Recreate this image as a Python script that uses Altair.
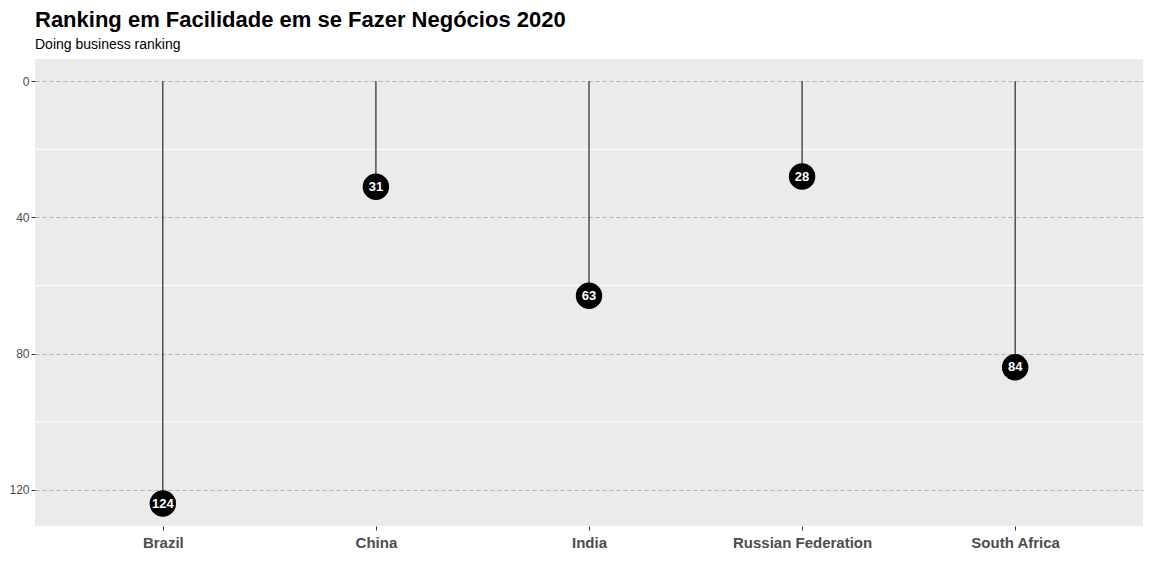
import altair as alt
import pandas as pd

countries = ["Brazil", "China", "India", "Russian Federation", "South Africa"]
ranks = [124, 31, 63, 28, 84]
minor_lines = [20, 60, 100]

df = pd.DataFrame({"country": countries, "rank": ranks, "zero": 0})
minor = pd.DataFrame({"v": minor_lines})

x = alt.X("country:N", scale=alt.Scale(type="point", padding=0.6), title=None,
          axis=alt.Axis(labelFont="Liberation Sans", labelFontSize=15, labelFontWeight="bold",
                        labelColor="#4d4d4d", labelAngle=0, domain=False, tickColor="#333333",
                        tickSize=4, labelPadding=5, grid=False))
yscale = alt.Scale(domain=[-6.5, 130.6], reverse=True, nice=False, zero=False)

minor_rules = alt.Chart(minor).mark_rule(color="white", strokeWidth=1).encode(
    y=alt.Y("v:Q", scale=yscale)
)

sticks = alt.Chart(df).mark_rule(color="black", strokeWidth=1).encode(
    x=x,
    y=alt.Y("zero:Q", scale=yscale, title=None,
            axis=alt.Axis(values=[0, 40, 80, 120], gridDash=[4, 3], gridColor="#b3b3b3",
                          domain=False, tickColor="#333333", tickSize=4,
                          labelFont="Liberation Sans", labelFontSize=12, labelColor="#4d4d4d")),
    y2="rank:Q",
)

dots = alt.Chart(df).mark_circle(color="black", opacity=1, size=700).encode(
    x=x, y=alt.Y("rank:Q", scale=yscale)
)

labels = alt.Chart(df).mark_text(color="white", font="Liberation Sans", fontWeight="bold",
                                 fontSize=13).encode(
    x=x, y=alt.Y("rank:Q", scale=yscale), text="rank:Q"
)

chart = alt.layer(minor_rules, sticks, dots, labels).properties(
    width=1108, height=467,
    autosize=alt.AutoSizeParams(type="none"),
    padding={"left": 27, "top": 51, "right": 1, "bottom": 42},
    title=alt.TitleParams("Ranking em Facilidade em se Fazer Negócios 2020",
                          subtitle="Doing business ranking", anchor="start", frame="group",
                          font="Liberation Sans", fontSize=22, fontWeight="bold", color="black",
                          subtitleFont="Liberation Sans", subtitleFontSize=14,
                          subtitleColor="black", subtitlePadding=6, offset=6),
).configure_view(fill="#EBEBEB", stroke=None)

chart.save("out.html", embed_options={"renderer": "svg", "actions": False})
